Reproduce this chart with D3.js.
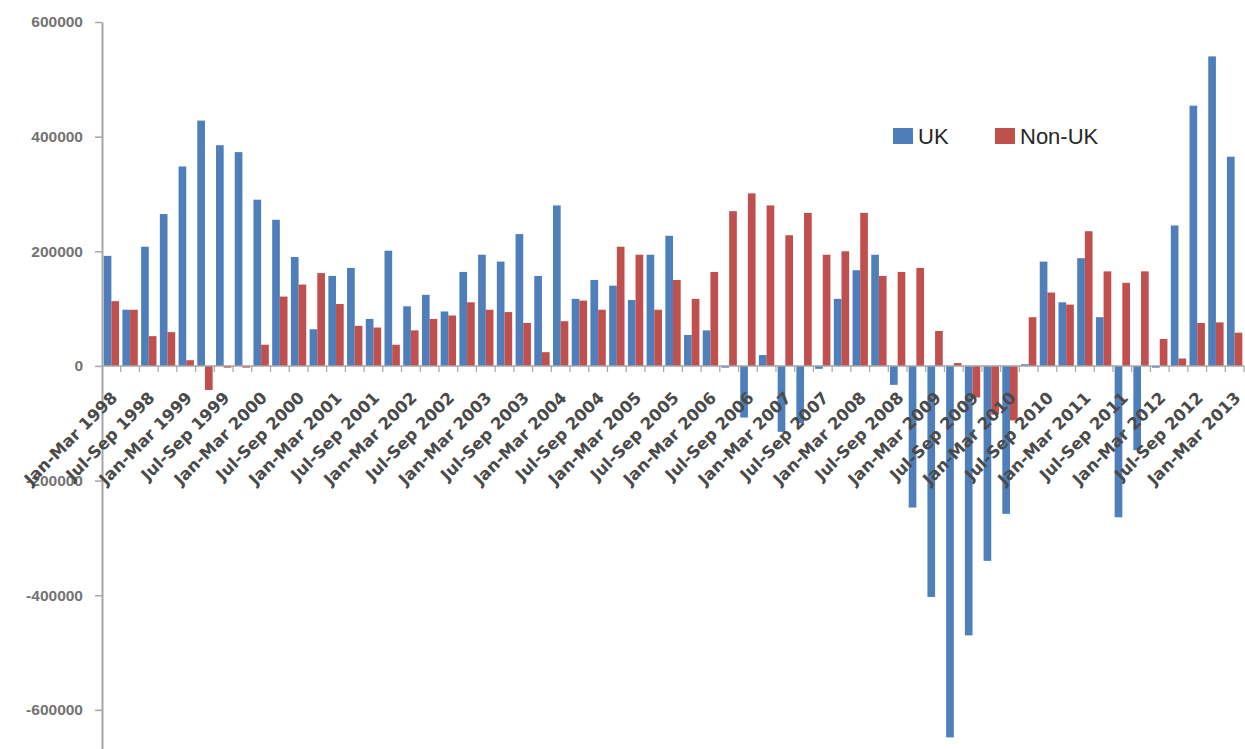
<!DOCTYPE html>
<html>
<head>
<meta charset="utf-8">
<script src="https://cdn.jsdelivr.net/npm/d3@7"></script>
<style>
  body { margin: 0; background: #fff; }
  svg { display: block; }
</style>
</head>
<body>
<svg id="chart" width="1245" height="749"></svg>
<script>
// quarters Jan-Mar 1998 .. Jan-Mar 2013
const quarterNames = ["Jan-Mar", "Apr-Jun", "Jul-Sep", "Oct-Dec"];
const years = [1998, 1999, 2000, 2001, 2002, 2003, 2004, 2005, 2006, 2007, 2008, 2009, 2010, 2011, 2012, 2013];

const ukValues = [
  192000, 98000, 208000, 265000, 348000, 428000, 385000, 373000, 290000, 255000,
  190000, 64000, 157000, 171000, 82000, 201000, 104000, 124000, 95000, 164000,
  194000, 182000, 230000, 157000, 280000, 117000, 150000, 140000, 115000, 194000,
  227000, 54000, 62000, -3000, -90000, 19000, -115000, -100000, -5000, 117000,
  167000, 194000, -33000, -247000, -403000, -648000, -470000, -340000, -258000, 3000,
  182000, 111000, 188000, 85000, -264000, -147000, -3000, 245000, 454000, 540000,
  365000
];

const nonUkValues = [
  113000, 98000, 52000, 59000, 10000, -42000, -3000, -3000, 37000, 121000,
  142000, 162000, 108000, 70000, 67000, 37000, 62000, 82000, 88000, 111000,
  98000, 94000, 75000, 24000, 78000, 114000, 98000, 208000, 194000, 98000,
  150000, 117000, 164000, 270000, 301000, 280000, 228000, 267000, 194000, 200000,
  267000, 157000, 164000, 171000, 61000, 5000, -55000, -85000, -95000, 85000,
  128000, 107000, 235000, 165000, 145000, 165000, 47000, 13000, 75000, 76000,
  58000
];

const yTicks = [-600000, -400000, -200000, 0, 200000, 400000, 600000];
const seriesNames = ["UK", "Non-UK"];
const colors = ["#4f7fbb", "#c0504d"];

const categories = [];
years.forEach(y => quarterNames.forEach(q => categories.push(q + " " + y)));
categories.length = ukValues.length;

const data = categories.map((c, i) => ({ cat: c, values: [ukValues[i], nonUkValues[i]] }));

const svg = d3.select("#chart");
const left = 102, right = 1244;

const x = d3.scaleBand().domain(categories).range([left, right]).padding(0);
const xSub = d3.scaleBand().domain(seriesNames)
  .range([x.bandwidth() * 0.09, x.bandwidth() * 0.91]).padding(0);
const y = d3.scaleLinear().domain([-670000, 600000]).range([750, 22]);

// bars
const groups = svg.append("g")
  .selectAll("g")
  .data(data)
  .enter()
  .append("g")
  .attr("transform", d => `translate(${x(d.cat)},0)`);

groups.selectAll("rect")
  .data(d => d.values.map((v, k) => ({ key: seriesNames[k], v: v, k: k })))
  .enter()
  .append("rect")
  .attr("x", d => xSub(d.key))
  .attr("width", xSub.bandwidth())
  .attr("y", d => y(Math.max(0, d.v)))
  .attr("height", d => Math.abs(y(d.v) - y(0)))
  .attr("fill", d => colors[d.k]);

// y axis
const yAxis = svg.append("g")
  .attr("transform", `translate(${left},0)`)
  .call(d3.axisLeft(y).tickValues(yTicks).tickFormat(d => d).tickSizeInner(7).tickSizeOuter(0).tickPadding(12));
yAxis.select(".domain").attr("stroke", "#a6a6a6").attr("stroke-width", 2);
yAxis.selectAll(".tick line").attr("stroke", "#a6a6a6").attr("stroke-width", 1.5);
yAxis.selectAll(".tick text")
  .attr("fill", "#737373")
  .style("font-family", "Liberation Sans")
  .style("font-weight", "bold")
  .style("font-size", "15.5px");

// x axis line at zero with ticks between categories
const xAxis = svg.append("g");
xAxis.append("line")
  .attr("x1", left).attr("x2", right)
  .attr("y1", y(0)).attr("y2", y(0))
  .attr("stroke", "#a6a6a6").attr("stroke-width", 1.5);
xAxis.selectAll(".xtick")
  .data(categories)
  .enter()
  .append("line")
  .attr("x1", d => x(d) + x.bandwidth())
  .attr("x2", d => x(d) + x.bandwidth())
  .attr("y1", y(0)).attr("y2", y(0) + 6)
  .attr("stroke", "#a6a6a6").attr("stroke-width", 1.2);

// labels every second quarter, rotated
xAxis.selectAll(".xlabel")
  .data(categories.filter((c, i) => i % 2 === 0))
  .enter()
  .append("text")
  .attr("transform", d => `translate(${x(d) + x.bandwidth() / 2 + 4},${y(0) + 30}) rotate(-45)`)
  .attr("text-anchor", "end")
  .attr("dy", "0.25em")
  .attr("fill", "#4a4a4a")
  .style("font-family", "DejaVu Sans")
  .style("font-weight", "bold")
  .style("font-size", "16.5px")
  .text(d => d);

// legend
const legend = svg.append("g");
const legendX = [893, 995];
seriesNames.forEach((name, i) => {
  legend.append("rect")
    .attr("x", legendX[i]).attr("y", 128)
    .attr("width", 20).attr("height", 16)
    .attr("fill", colors[i]);
  legend.append("text")
    .attr("x", legendX[i] + 25).attr("y", 144)
    .attr("fill", "#262626")
    .style("font-family", "Liberation Sans")
    .style("font-size", "22px")
    .text(name);
});
</script>
</body>
</html>
